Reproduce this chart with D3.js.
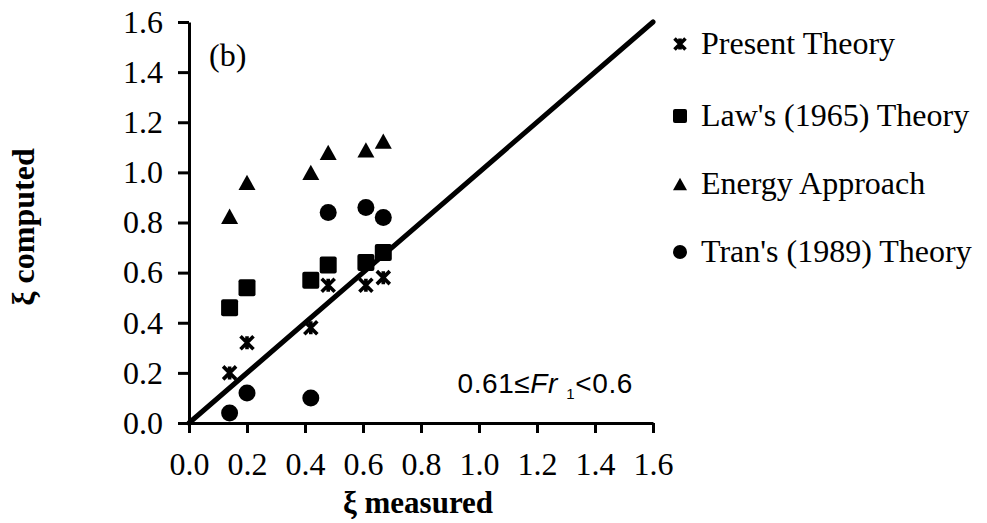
<!DOCTYPE html>
<html>
<head>
<meta charset="utf-8">
<script src="https://cdn.jsdelivr.net/npm/d3@7"></script>
<style>
  html, body { margin: 0; padding: 0; background: #fff; }
  svg { display: block; }
</style>
</head>
<body>
<svg id="chart" width="987" height="523"></svg>
<script>
// Measured vs computed relative depth values for each method
const measured = [0.14, 0.20, 0.42, 0.48, 0.61, 0.67];
const presentTheory = [0.20, 0.32, 0.38, 0.55, 0.55, 0.58];
const lawTheory = [0.46, 0.54, 0.57, 0.63, 0.64, 0.68];
const energyApproach = [0.825, 0.96, 1.00, 1.08, 1.09, 1.125];
const tranTheory = [0.04, 0.12, 0.10, 0.84, 0.86, 0.82];
const tickValues = [0.0, 0.2, 0.4, 0.6, 0.8, 1.0, 1.2, 1.4, 1.6];
const perfectLine = [0, 1.6];

const seriesNames = ["Present Theory", "Law's (1965) Theory", "Energy Approach", "Tran's (1989) Theory"];
const seriesShapes = ["star", "square", "triangle", "circle"];
const seriesValues = [presentTheory, lawTheory, energyApproach, tranTheory];

const svg = d3.select("#chart");
const serif = "'Liberation Serif', 'Times New Roman', serif";
const sans = "'Liberation Sans', Arial, sans-serif";

const x = d3.scaleLinear().domain([0, 1.6]).range([189, 653]);
const y = d3.scaleLinear().domain([0, 1.6]).range([423, 22]);

// marker drawing
function drawMarker(g, shape, cx, cy, s) {
  if (shape === "square") {
    g.append("rect").attr("x", cx - s / 2).attr("y", cy - s / 2)
      .attr("width", s).attr("height", s).attr("rx", 2).attr("fill", "#000");
  } else if (shape === "triangle") {
    const h = s * 0.9;
    g.append("path")
      .attr("d", `M${cx},${cy - h / 2}L${cx + s / 2},${cy + h / 2}L${cx - s / 2},${cy + h / 2}Z`)
      .attr("fill", "#000");
  } else if (shape === "circle") {
    g.append("circle").attr("cx", cx).attr("cy", cy).attr("r", s / 2).attr("fill", "#000");
  } else if (shape === "star") {
    const r = s / 2;
    g.append("path")
      .attr("d", `M${cx - r},${cy - r}L${cx + r},${cy + r}M${cx + r},${cy - r}L${cx - r},${cy + r}` +
                 `M${cx},${cy - r}L${cx},${cy + r}`)
      .attr("stroke", "#000").attr("stroke-width", 3.6).attr("fill", "none");
  }
}

// axes
const xAxis = d3.axisBottom(x).tickValues(tickValues).tickFormat(d3.format(".1f"))
  .tickSizeInner(10).tickSizeOuter(0).tickPadding(19);
const yAxis = d3.axisLeft(y).tickValues(tickValues).tickFormat(d3.format(".1f"))
  .tickSizeInner(11).tickSizeOuter(0).tickPadding(15);

const gx = svg.append("g").attr("transform", `translate(0,${y(0)})`).call(xAxis);
const gy = svg.append("g").attr("transform", `translate(${x(0)},0)`).call(yAxis);

[gx, gy].forEach(g => {
  g.select(".domain").attr("stroke", "#000").attr("stroke-width", 3);
  g.selectAll(".tick line").attr("stroke", "#000").attr("stroke-width", 3);
  g.selectAll(".tick text").attr("fill", "#000")
    .style("font-family", serif).style("font-size", "32px");
});

// 1:1 line
svg.append("line")
  .attr("x1", x(perfectLine[0])).attr("y1", y(perfectLine[0]))
  .attr("x2", x(perfectLine[1])).attr("y2", y(perfectLine[1]))
  .attr("stroke", "#000").attr("stroke-width", 5).attr("stroke-linecap", "round");

// data points
const pts = svg.append("g");
seriesValues.forEach((vals, i) => {
  vals.forEach((v, j) => {
    drawMarker(pts, seriesShapes[i], x(measured[j]), y(v), seriesShapes[i] === "star" ? 13 : 17);
  });
});

// panel label
svg.append("text").attr("x", 209).attr("y", 66).text("(b)")
  .style("font-family", serif).style("font-size", "32px");

// Froude number range
const ann = svg.append("text").attr("x", 633).attr("y", 393).attr("text-anchor", "end")
  .style("font-family", sans).style("font-size", "28px").style("letter-spacing", "0.6px");
ann.append("tspan").text("0.61≤");
ann.append("tspan").text("Fr").style("font-style", "italic");
ann.append("tspan").text("  ");
ann.append("tspan").text("1").style("font-size", "15px").attr("dy", 6);
ann.append("tspan").text("<0.6").attr("dy", -6);

// axis titles
svg.append("text").attr("transform", "translate(34,227) rotate(-90)")
  .attr("text-anchor", "middle")
  .style("font-family", serif).style("font-size", "32px").style("font-weight", "bold")
  .text("ξ computed");

svg.append("text").attr("x", 418).attr("y", 513)
  .attr("text-anchor", "middle")
  .style("font-family", serif).style("font-size", "31px").style("font-weight", "bold")
  .text("ξ measured");

// legend
const legendBaselines = [54, 126, 194, 262];
const legend = svg.append("g");
seriesNames.forEach((name, i) => {
  const by = legendBaselines[i];
  drawMarker(legend, seriesShapes[i], 680, by - 10, seriesShapes[i] === "star" ? 11 : 14);
  legend.append("text").attr("x", 701).attr("y", by).text(name)
    .style("font-family", serif).style("font-size", "32px");
});
</script>
</body>
</html>
